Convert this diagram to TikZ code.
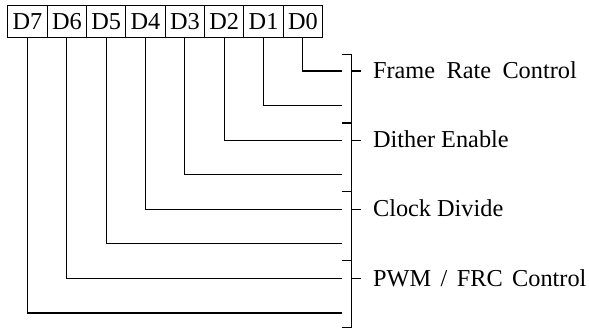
\documentclass[tikz,border=0pt]{standalone}
\usepackage{fontspec}
\setmainfont{Liberation Serif}
\begin{document}
\begin{tikzpicture}[x=1pt,y=-1pt,line width=1.1pt,
  cell/.style={draw,minimum width=39.34pt,minimum height=32pt,inner sep=0pt,anchor=north west,font=\fontsize{24.3}{29}\selectfont},
  lbl/.style={anchor=base west,inner sep=0pt,font=\fontsize{24.3}{29}\selectfont},
  wire/.style={line width=1.1pt}]
\useasboundingbox (0,0) rectangle (589,329);
% register cells
\foreach \i/\b in {0/7,1/6,2/5,3/4,4/3,5/2,6/1,7/0}{
  \node[cell] (b\b) at ({7.3+39.34*\i},5) {D\b};
}
% wire end points
\foreach \b in {0,...,7}{
  \coordinate (e\b) at (341.7,{71+34.57*\b});
  \draw[wire] (b\b.south) |- (e\b);
}
% bracket
\coordinate (bt) at (351.7,54.3);
\coordinate (bb) at (351.7,327.5);
\draw[wire] (bt) -- (bb);
\foreach \y in {54.3,123,191.7,260.3,327.5}{
  \draw[wire] (341.7,\y) -- (351.7,\y);
}
\foreach \y/\n in {71/l0,140.1/l1,209.3/l2,278.4/l3}{
  \draw[wire] (351.7,\y) -- (360.7,\y);
  \coordinate (\n) at (372.5,\y+7.6);
}
\node[lbl] (t0) at (l0) {Frame\hspace{0.47em}Rate\hspace{0.47em}Control};
\node[lbl] (t1) at (l1) {Dither Enable};
\node[lbl] (t2) at (l2) {Clock Divide};
\node[lbl] (t3) at (l3) {PWM\hspace{0.39em}/\hspace{0.39em}FRC\hspace{0.39em}Control};
\end{tikzpicture}
\end{document}
